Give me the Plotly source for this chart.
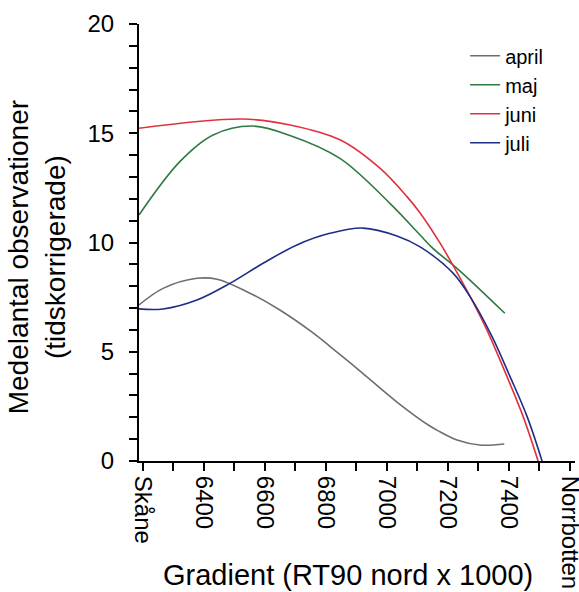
import plotly.graph_objects as go

# Data
april_x = [6187, 6266, 6377, 6443, 6541, 6649, 6758, 6813, 6879, 6922, 7033, 7141, 7174, 7230, 7305, 7385]
april_y = [7.14, 7.9, 8.36, 8.32, 7.75, 6.91, 5.86, 5.25, 4.5, 4.0, 2.7, 1.6, 1.34, 0.96, 0.73, 0.78]

maj_x = [6187, 6321, 6430, 6558, 6682, 6846, 7010, 7109, 7151, 7230, 7387]
maj_y = [11.26, 13.7, 14.92, 15.33, 14.9, 13.85, 11.79, 10.34, 9.73, 8.82, 6.76]

juni_x = [6187, 6528, 6682, 6846, 6977, 7066, 7109, 7174, 7217, 7296, 7328, 7394, 7447, 7496]
juni_y = [15.23, 15.65, 15.38, 14.7, 13.4, 12.1, 11.35, 9.98, 8.95, 6.91, 6.0, 3.86, 2.03, 0.0]

juli_x = [6187, 6266, 6377, 6485, 6594, 6705, 6813, 6922, 7033, 7109, 7217, 7273, 7345, 7404, 7460, 7509]
juli_y = [6.96, 6.96, 7.37, 8.13, 9.05, 9.89, 10.42, 10.66, 10.3, 9.8, 8.6, 7.52, 5.69, 3.86, 2.03, 0.0]

series_names = ["april", "maj", "juni", "juli"]
series_colors = ["#6e6e6e", "#2e7a45", "#e0323c", "#1e2d86"]

x_tickvals = list(range(6200, 7601, 100))
x_ticklabels = {6200: "Skåne", 6400: "6400", 6600: "6600", 6800: "6800",
                7000: "7000", 7200: "7200", 7400: "7400", 7600: "Norrbotten"}
y_tickvals = list(range(0, 21))
y_ticklabels = {0: "0", 5: "5", 10: "10", 15: "15", 20: "20"}

FONT = "Liberation Sans, Arial, sans-serif"

fig = go.Figure()
for i, (xs, ys) in enumerate([(april_x, april_y), (maj_x, maj_y), (juni_x, juni_y), (juli_x, juli_y)]):
    fig.add_trace(go.Scatter(
        x=xs, y=ys, mode="lines", name=series_names[i],
        line=dict(color=series_colors[i], width=1.6, shape="spline", smoothing=1.0),
        legendgroup=series_names[i],
    ))

fig.update_layout(
    width=579, height=592,
    margin=dict(l=139, r=4, t=24, b=131),
    paper_bgcolor="white", plot_bgcolor="white",
    font=dict(family=FONT, size=24, color="black"),
    showlegend=True,
    legend=dict(
        x=0.748, y=0.972, xanchor="left", yanchor="top",
        font=dict(size=20, color="black"),
        tracegroupgap=0, bgcolor="rgba(0,0,0,0)",
    ),
)

fig.update_xaxes(
    range=[6187, 7617],
    tickmode="array",
    tickvals=x_tickvals,
    ticktext=[x_ticklabels.get(v, "") for v in x_tickvals],
    tickangle=90,
    ticks="outside", ticklen=8, tickwidth=2, tickcolor="black",
    showline=True, linecolor="black", linewidth=2,
    showgrid=False, zeroline=False,
    tickfont=dict(size=24, family=FONT),
    ticklabeloverflow="allow",
    automargin=False,
)
fig.update_yaxes(
    range=[0, 20],
    tickmode="array",
    tickvals=y_tickvals,
    ticktext=[y_ticklabels.get(v, "") for v in y_tickvals],
    ticks="outside", ticklen=8, tickwidth=2, tickcolor="black",
    showline=True, linecolor="black", linewidth=2,
    showgrid=False, zeroline=False,
    tickfont=dict(size=24, family=FONT),
    ticklabelstandoff=10,
    automargin=False,
)

fig.add_annotation(
    text="Medelantal observationer<br>(tidskorrigerade)",
    xref="paper", yref="paper", x=-0.233, y=0.467,
    xanchor="center", yanchor="middle",
    showarrow=False, textangle=-90,
    font=dict(size=28, family=FONT, color="black"),
)
fig.add_annotation(
    text="Gradient (RT90 nord x 1000)",
    xref="paper", yref="paper", x=0.479, y=-0.261,
    xanchor="center", yanchor="middle",
    showarrow=False,
    font=dict(size=29, family=FONT, color="black"),
)

fig.write_html("out.html")
